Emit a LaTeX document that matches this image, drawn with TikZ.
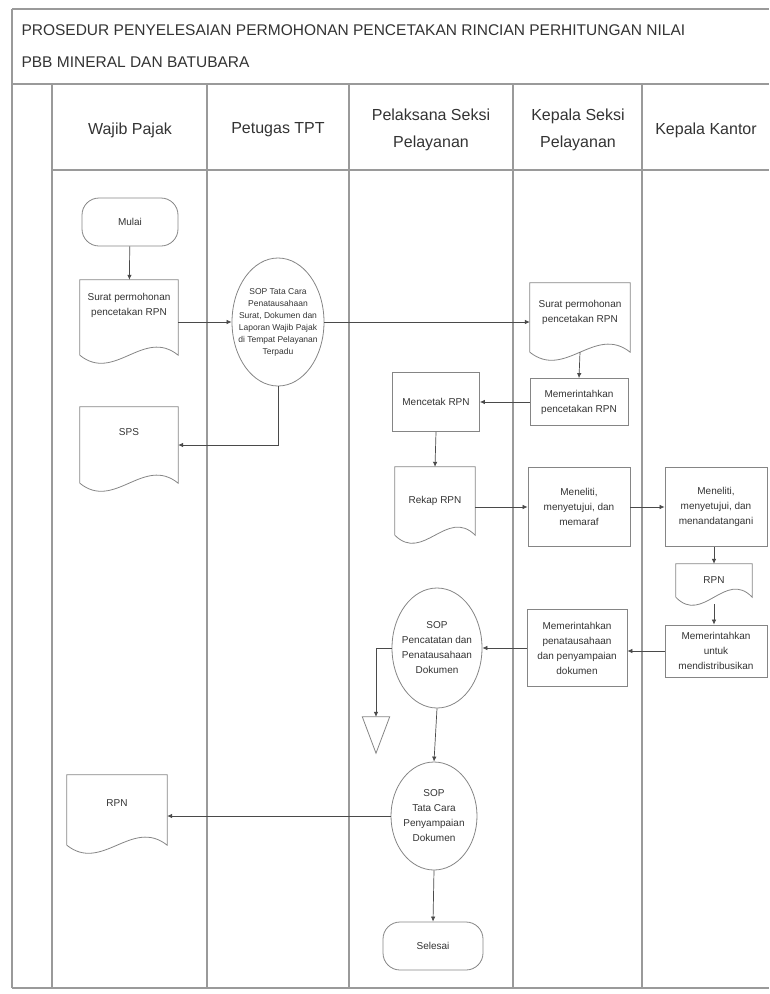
\documentclass[tikz,border=0pt]{standalone}
\usepackage{fontspec}
\setmainfont{Liberation Sans}
\usetikzlibrary{arrows.meta,shapes.geometric,calc}
\definecolor{frm}{HTML}{9A9A9A}
\definecolor{edg}{HTML}{858585}
\definecolor{txt}{HTML}{333333}
\definecolor{con}{HTML}{4A4A4A}
\newcommand\docoutline[1]{\draw[shapeline] (#1.south west) -- (#1.north west) -- (#1.north east) -- (#1.south east) .. controls ($(#1.south east)!0.35!(#1.south west)+(0,-28)$) and ($(#1.south east)!0.65!(#1.south west)+(0,28)$) .. (#1.south west);}
\begin{document}
\begin{tikzpicture}[x=1pt,y=-1pt,
  frameline/.style={draw=frm,line width=1.2pt},
  shapeline/.style={draw=edg,line width=0.8pt},
  boxtext/.style={align=center,text=txt,font=\fontsize{10}{15}\selectfont},
  proc/.style={boxtext,shapeline,rectangle,inner sep=1pt},
  docnode/.style={boxtext,rectangle,inner sep=1pt},
  sopnode/.style={boxtext,shapeline,ellipse,inner xsep=-12pt,inner ysep=0pt},
  termnode/.style={boxtext,shapeline,rectangle,rounded corners=17pt,minimum width=96pt,minimum height=48pt},
  headtext/.style={align=center,text=txt,font=\fontsize{16}{27}\selectfont},
  titletext/.style={anchor=west,text=txt,font=\fontsize{15.5}{18}\selectfont},
  arr/.style={draw=con,line width=0.7pt,-{Latex[length=5pt,width=4.5pt]}}
]
\useasboundingbox (0,0) rectangle (769,994);
% frame
\draw[frameline] (12,9) -- (769,9);
\draw[frameline] (12,84) -- (769,84);
\draw[frameline] (52,170) -- (769,170);
\draw[frameline] (12,988) -- (769,988);
\draw[frameline] (12,9) -- (12,988);
\foreach \xx in {52,207,349,513,642} \draw[frameline] (\xx,84) -- (\xx,988);
% title
\node[titletext] (t1) at (18,30) {PROSEDUR PENYELESAIAN PERMOHONAN PENCETAKAN RINCIAN PERHITUNGAN NILAI};
\node[titletext] (t2) at (18,62) {PBB MINERAL DAN BATUBARA};
% headers
\node[headtext] (h1) at (130,130) {Wajib Pajak};
\node[headtext] (h2) at (278,130) {Petugas TPT};
\node[headtext] (h3) at (431,130) {Pelaksana Seksi\\Pelayanan};
\node[headtext] (h4) at (578,130) {Kepala Seksi\\Pelayanan};
\node[headtext] (h5) at (706,130) {Kepala Kantor};
% nodes
\node[termnode] (mulai) at (130,222) {Mulai};
\node[docnode,minimum width=98pt,minimum height=75pt,text depth=27pt] (surat1) at (129,317.5) {Surat permohonan\\pencetakan RPN};
\node[sopnode,minimum width=92pt,minimum height=128pt,font=\fontsize{8.5}{12}\selectfont] (sop1) at (278,322) {SOP Tata Cara\\Penatausahaan\\Surat, Dokumen dan\\Laporan Wajib Pajak\\di Tempat Pelayanan\\Terpadu};
\node[docnode,minimum width=98pt,minimum height=76pt,text depth=26pt] (sps) at (129,445) {SPS};
\node[docnode,minimum width=100pt,minimum height=69pt,text depth=12pt] (surat2) at (580,317.5) {Surat permohonan\\pencetakan RPN};
\node[proc,minimum width=98pt,minimum height=47pt] (perintah1) at (579,402) {Memerintahkan\\pencetakan RPN};
\node[proc,minimum width=87pt,minimum height=59pt] (cetak) at (436,402) {Mencetak RPN};
\node[docnode,minimum width=80pt,minimum height=68pt] (rekap) at (435,501) {Rekap RPN};
\node[proc,minimum width=102pt,minimum height=79pt] (teliti1) at (579,507) {Meneliti,\\menyetujui, dan\\memaraf};
\node[proc,minimum width=102pt,minimum height=79pt] (teliti2) at (716,507) {Meneliti,\\menyetujui, dan\\menandatangani};
\node[docnode,minimum width=76pt,minimum height=33pt] (rpnk) at (714,580.5) {RPN};
\node[proc,minimum width=102pt,minimum height=52pt] (perintah2) at (716,651) {Memerintahkan\\untuk\\mendistribusikan};
\node[proc,minimum width=100pt,minimum height=77pt] (perintah3) at (577,648) {Memerintahkan\\penatausahaan\\dan penyampaian\\dokumen};
\node[sopnode,minimum width=90pt,minimum height=120pt] (sop2) at (437,648) {SOP\\Pencatatan dan\\Penatausahaan\\Dokumen};
\node[inner sep=0pt,minimum width=27pt,minimum height=36pt] (arsip) at (376,735) {};
\node[sopnode,minimum width=86pt,minimum height=108pt] (sop3) at (434,816) {SOP\\Tata Cara\\Penyampaian\\Dokumen};
\node[docnode,minimum width=100pt,minimum height=70pt,text depth=14pt] (rpn) at (117,810) {RPN};
\node[termnode,minimum width=100pt] (selesai) at (433,946) {Selesai};
% document outlines
\docoutline{surat1}
\docoutline{sps}
\docoutline{surat2}
\docoutline{rekap}
\docoutline{rpnk}
\docoutline{rpn}
\draw[shapeline] (arsip.north west) -- (arsip.north east) -- (arsip.south) -- cycle;
% connectors
\draw[arr] (mulai) -- (surat1);
\draw[arr] (surat1.east |- sop1.west) -- (sop1.west);
\draw[arr] (sop1.east) -- (sop1.east -| surat2.west);
\draw[arr] (sop1.south) |- (sps.east);
\draw[arr] (surat2.south) -- (perintah1.north);
\draw[arr] (perintah1.west) -- (cetak.east);
\draw[arr] (cetak.south) -- (rekap.north);
\draw[arr] (rekap.east |- teliti1.west) -- (teliti1.west);
\draw[arr] (teliti1.east) -- (teliti2.west);
\draw[arr] (teliti2.south -| rpnk.north) -- (rpnk.north);
\draw[arr] (rpnk.south |- 0,604) -- (rpnk.south |- perintah2.north);
\draw[arr] (perintah2.west) -- (perintah2.west -| perintah3.east);
\draw[arr] (perintah3.west) -- (sop2.east);
\draw[arr] (sop2.west) -| (arsip.north);
\draw[arr] (sop2.south) -- (sop3.north);
\draw[arr] (sop3.west) -- (rpn.east |- sop3.west);
\draw[arr] (sop3.south) -- (selesai.north);
\end{tikzpicture}
\end{document}
